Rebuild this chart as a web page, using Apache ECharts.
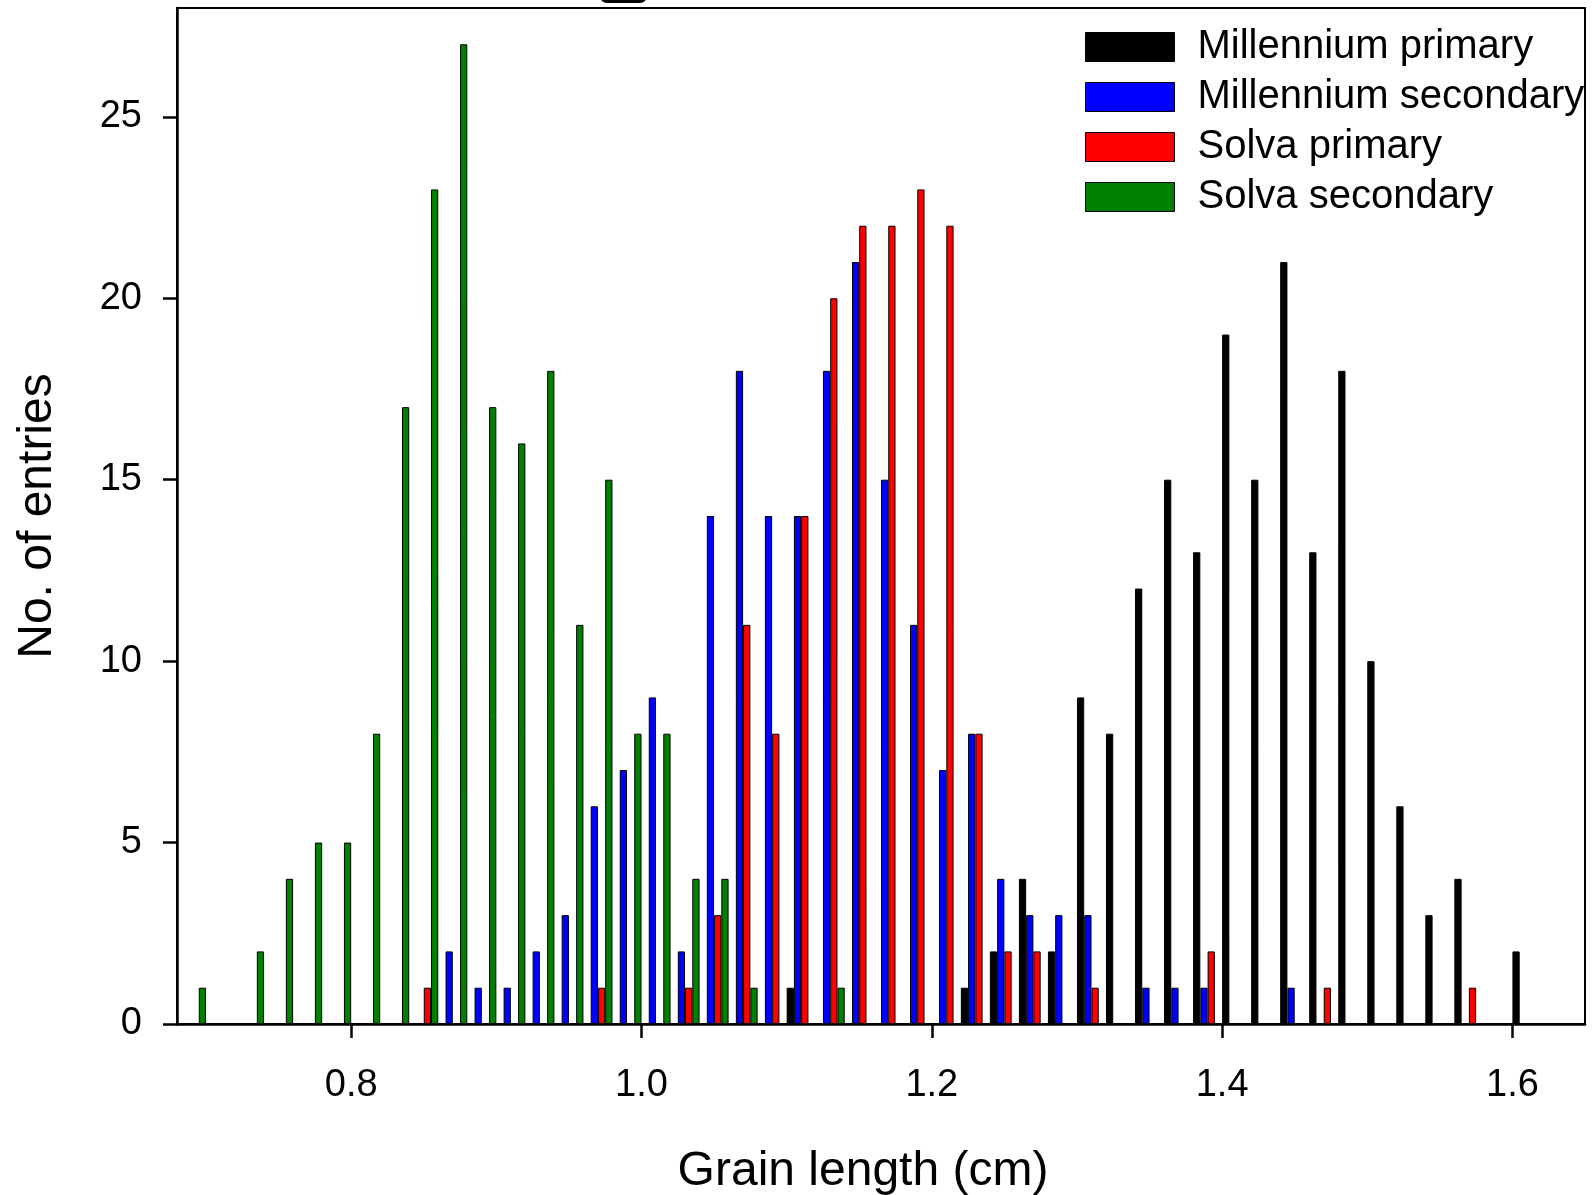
<!DOCTYPE html>
<html>
<head>
<meta charset="utf-8">
<title>Grain length distribution</title>
<script src="https://cdn.jsdelivr.net/npm/echarts@6/dist/echarts.min.js"></script>
<style>
  html, body { margin: 0; padding: 0; background: #fff; }
  #chart { width: 1592px; height: 1195px; }
</style>
</head>
<body>
<div id="chart"></div>
<script>
// Bin centres (cm), 0.02 cm wide bins
const bins = [0.69, 0.71, 0.73, 0.75, 0.77, 0.79, 0.81, 0.83, 0.85, 0.87,
              0.89, 0.91, 0.93, 0.95, 0.97, 0.99, 1.01, 1.03, 1.05, 1.07,
              1.09, 1.11, 1.13, 1.15, 1.17, 1.19, 1.21, 1.23, 1.25, 1.27,
              1.29, 1.31, 1.33, 1.35, 1.37, 1.39, 1.41, 1.43, 1.45, 1.47,
              1.49, 1.51, 1.53, 1.55, 1.57, 1.59, 1.61];

// Counts per bin for each sample
const millenniumPrimary = [0, 0, 0, 0, 0, 0, 0, 0, 0, 0,
                           0, 0, 0, 0, 0, 0, 0, 0, 0, 0,
                           0, 1, 0, 0, 0, 0, 0, 1, 2, 4,
                           2, 9, 8, 12, 15, 13, 19, 15, 21, 13,
                           18, 10, 6, 3, 4, 0, 2];
const millenniumSecondary = [0, 0, 0, 0, 0, 0, 0, 0, 0, 2,
                             1, 1, 2, 3, 6, 7, 9, 2, 14, 18,
                             14, 14, 18, 21, 15, 11, 7, 8, 4, 3,
                             3, 3, 0, 1, 1, 1, 0, 0, 1, 0,
                             0, 0, 0, 0, 0, 0, 0];
const solvaPrimary = [0, 0, 0, 0, 0, 0, 0, 0, 1, 0,
                      0, 0, 0, 0, 1, 0, 0, 1, 3, 11,
                      8, 14, 20, 22, 22, 23, 22, 8, 2, 2,
                      0, 1, 0, 0, 0, 2, 0, 0, 0, 1,
                      0, 0, 0, 0, 1, 0, 0];
const solvaSecondary = [1, 0, 2, 4, 5, 5, 8, 17, 23, 27,
                        17, 16, 18, 11, 15, 8, 8, 4, 4, 1,
                        0, 0, 1, 0, 0, 0, 0, 0, 0, 0,
                        0, 0, 0, 0, 0, 0, 0, 0, 0, 0,
                        0, 0, 0, 0, 0, 0, 0];

const seriesNames = ['Millennium primary', 'Millennium secondary', 'Solva primary', 'Solva secondary'];
const seriesColors = ['#000000', '#0000ff', '#ff0000', '#008000'];
const seriesCounts = [millenniumPrimary, millenniumSecondary, solvaPrimary, solvaSecondary];

const xTicks = [0.8, 1.0, 1.2, 1.4, 1.6];
const yTicks = [0, 5, 10, 15, 20, 25];

const FONT = '"Liberation Sans", Arial, Helvetica, sans-serif';

const chart = echarts.init(document.getElementById('chart'), null, { renderer: 'canvas' });

const series = seriesNames.map((name, s) => ({
  name: name,
  type: 'bar',
  barWidth: '25%',
  barGap: '0%',
  itemStyle: { color: seriesColors[s], borderColor: '#000', borderWidth: 1 },
  data: bins.map((b, i) => seriesCounts[s][i] ? [b, seriesCounts[s][i]] : null).filter(Boolean)
}));

chart.setOption({
  animation: false,
  backgroundColor: '#fff',
  textStyle: { fontFamily: FONT, color: '#000' },
  grid: {
    left: 177, right: 7, top: 8, bottom: 171,
    show: true, borderColor: '#000', borderWidth: 2,
    containLabel: false,
    outerBoundsMode: 'none'
  },
  legend: {
    orient: 'vertical',
    left: 1085, top: 27,
    padding: 0,
    itemWidth: 89, itemHeight: 29, itemGap: 10,
    icon: 'rect',
    selectedMode: false,
    itemStyle: { borderColor: '#000', borderWidth: 1 },
    textStyle: { fontFamily: FONT, fontSize: 40, color: '#000', padding: [0, 0, 0, 18] },
    data: seriesNames
  },
  xAxis: {
    type: 'value',
    min: 0.68, max: 1.65,
    name: 'Grain length (cm)',
    nameLocation: 'middle',
    nameGap: 124,
    nameTextStyle: { fontFamily: FONT, fontSize: 48, color: '#000', padding: [0, 36, 0, 0] },
    axisLine: { show: true, lineStyle: { color: '#000', width: 2.5 } },
    axisTick: { show: true, inside: false, length: 14, customValues: xTicks, lineStyle: { color: '#000', width: 2.5 } },
    axisLabel: { customValues: xTicks, margin: 43, fontSize: 38, color: '#000', fontFamily: FONT,
                 formatter: v => v.toFixed(1) },
    splitLine: { show: false }
  },
  yAxis: {
    type: 'value',
    min: 0, max: 28,
    name: 'No. of entries',
    nameLocation: 'middle',
    nameGap: 115,
    nameTextStyle: { fontFamily: FONT, fontSize: 48, color: '#000' },
    axisLine: { show: true, lineStyle: { color: '#000', width: 2.5 } },
    axisTick: { show: true, inside: false, length: 14, customValues: yTicks, lineStyle: { color: '#000', width: 2.5 } },
    axisLabel: { customValues: yTicks, margin: 35, fontSize: 38, color: '#000', fontFamily: FONT },
    splitLine: { show: false }
  },
  graphic: [{
    // clipped panel tag peeking over the top edge
    type: 'rect',
    shape: { x: 600, y: -12, width: 47, height: 15, r: 7 },
    style: { fill: '#000' },
    silent: true
  }],
  series: series
});
</script>
</body>
</html>
